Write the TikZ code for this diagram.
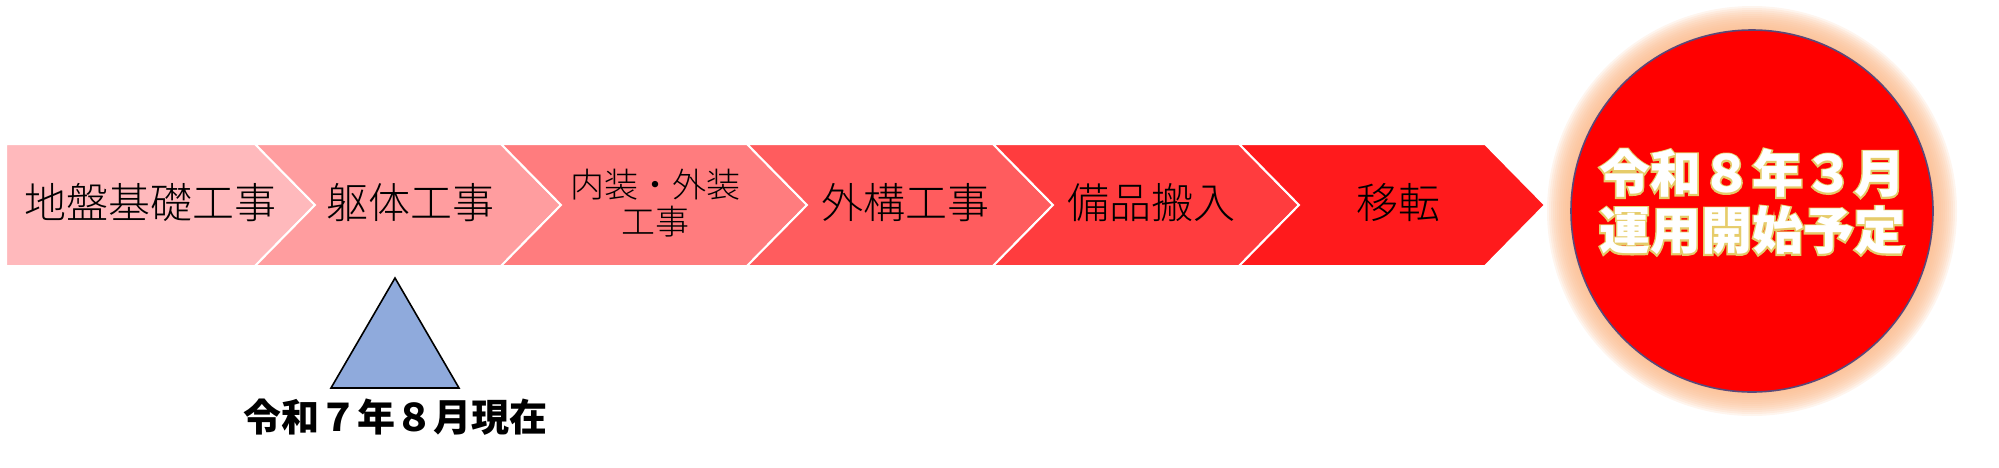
\documentclass[tikz,border=0pt]{standalone}
\usepackage{fontspec}
\usepackage{tikz}
\newfontfamily\jpfont{Noto Sans CJK JP}
\newfontfamily\jplight{Noto Sans CJK JP Light}
\newfontfamily\jpglow[BoldFeatures={FakeBold=6}]{Noto Sans CJK JP}

\definecolor{phase1}{HTML}{FFB9BC}
\definecolor{phase2}{HTML}{FF9D9F}
\definecolor{phase3}{HTML}{FF7C7E}
\definecolor{phase4}{HTML}{FF5C5E}
\definecolor{phase5}{HTML}{FF3C3E}
\definecolor{phase6}{HTML}{FF1A1C}
\definecolor{halo}{HTML}{FBBA8C}
\definecolor{rim}{HTML}{5A4878}
\definecolor{marker}{HTML}{8FAADC}
\definecolor{shine}{HTML}{E6CC6A}

\tikzset{
  phasetext/.style={font=\jplight\fontsize{21}{24}\selectfont, text=black},
  goaltext/.style={font=\jpfont\bfseries\fontsize{25.5}{28.5}\selectfont, align=center, text=white}
}

\begin{document}
\begin{tikzpicture}[x=0.5pt, y=-0.5pt]
  \useasboundingbox (0,0) rectangle (1999,467);

  % First phase (flat left edge)
  \fill[phase1, draw=white, line width=1pt] (6,144) -- (255,144) -- (315,205) -- (255,266) -- (6,266) -- cycle;

  % Other phases
  \foreach \i in {2,...,6}
      \fill[phase\i, draw=white, line width=1pt]
        ({255+246*(\i-2)},144) -- ({501+246*(\i-2)},144) -- ({561+246*(\i-2)},205)
        -- ({501+246*(\i-2)},266) -- ({255+246*(\i-2)},266) -- ({315+246*(\i-2)},205) -- cycle;

  % Phase labels
  \node[phasetext] (phase-1) at (151,203) {地盤基礎工事};
  \node[phasetext] (phase-2) at (410,203) {躯体工事};
  \node[phasetext, align=center, font=\jplight\fontsize{17}{18.5}\selectfont] (phase-3) at (655,203) {内装・外装\\工事};
  \node[phasetext] (phase-4) at (905,203) {外構工事};
  \node[phasetext] (phase-5) at (1151,203) {備品搬入};
  \node[phasetext] (phase-6) at (1398,203) {移転};

  % Current position
  \draw[fill=marker, draw=black, line width=0.8pt] (331,388) -- (395,278) -- (459,388) -- cycle;
  \node[font=\jpfont\bfseries\fontsize{19}{22}\selectfont] (now) at (395,417) {令和７年８月現在};

  % Glow round the goal
  \foreach \k in {1,...,12}
      \fill[halo, opacity=0.15] (1752,211) circle ({181+2*\k});

  % Goal
  \node[circle, fill=red, draw=rim, line width=0.8pt, minimum size=181pt, inner sep=0pt] (goal) at (1752,211) {};
  \node[goaltext, font=\jpglow\bfseries\fontsize{25.5}{28.5}\selectfont, text=shine] (goal-glow) at (1752,202) {令和８年３月\\運用開始予定};
  \node[goaltext] (goal-text) at (1752,202) {令和８年３月\\運用開始予定};
\end{tikzpicture}
\end{document}
